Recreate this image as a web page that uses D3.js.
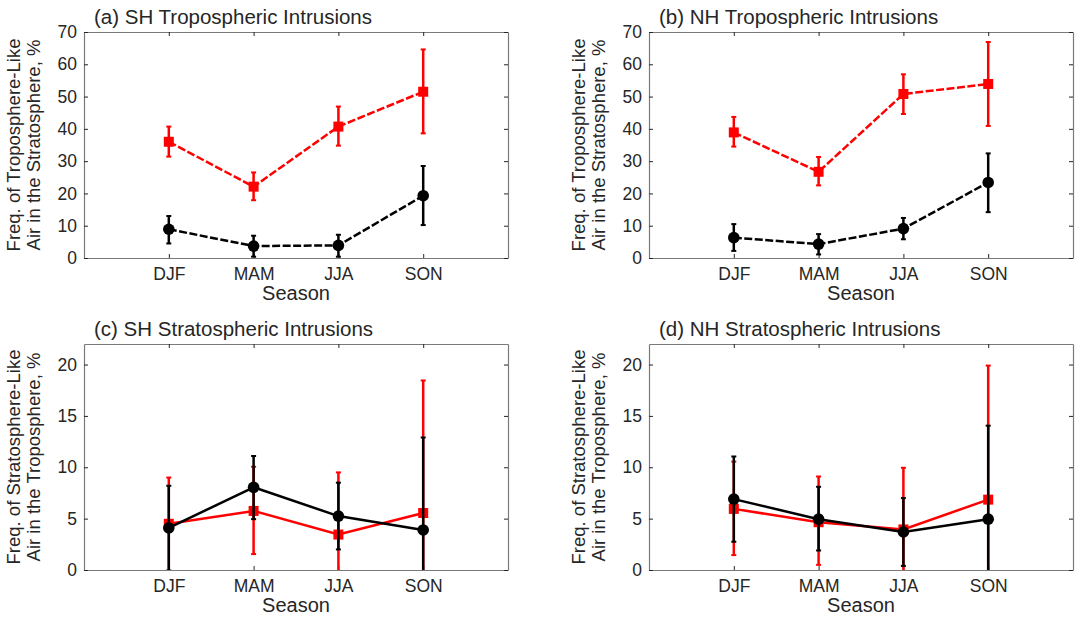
<!DOCTYPE html>
<html>
<head>
<meta charset="utf-8">
<script src="https://cdn.jsdelivr.net/npm/d3@7"></script>
<style>
  body { margin: 0; background: #fff; }
  text { font-family: "Liberation Sans", Arial, sans-serif; fill: #262626; }
</style>
</head>
<body>
<div id="chart"></div>
<script>
// seasons on the x axis
var seasons = ["DJF", "MAM", "JJA", "SON"];

// (a) SH tropospheric intrusions: value, lower, upper
var aRed = [36.0, 22.1, 40.7, 51.5];
var aRedLo = [31.4, 17.9, 34.8, 38.6];
var aRedHi = [40.7, 26.5, 46.9, 64.6];
var aBlack = [8.9, 3.7, 3.9, 19.3];
var aBlackLo = [4.5, 0.4, 0.4, 10.2];
var aBlackHi = [13.0, 6.9, 7.2, 28.5];

// (b) NH tropospheric intrusions
var bRed = [38.9, 26.7, 50.8, 53.9];
var bRedLo = [34.5, 22.5, 44.6, 40.9];
var bRedHi = [43.7, 31.3, 56.9, 66.9];
var bBlack = [6.3, 4.3, 9.1, 23.4];
var bBlackLo = [2.2, 1.1, 5.8, 14.2];
var bBlackHi = [10.5, 7.4, 12.4, 32.4];

// (c) SH stratospheric intrusions
var cRed = [4.5, 5.75, 3.45, 5.55];
var cRedLo = [-0.1, 1.55, -2.6, -7.3];
var cRedHi = [9.0, 10.05, 9.5, 18.45];
var cBlack = [4.1, 8.05, 5.25, 3.9];
var cBlackLo = [-0.05, 4.95, 2.0, -5.1];
var cBlackHi = [8.2, 11.1, 8.5, 12.9];

// (d) NH stratospheric intrusions
var dRed = [5.95, 4.65, 3.95, 6.85];
var dRedLo = [1.45, 0.5, -2.0, -6.2];
var dRedHi = [10.55, 9.1, 9.95, 19.9];
var dBlack = [6.9, 4.95, 3.7, 4.95];
var dBlackLo = [2.75, 1.9, 0.4, -4.1];
var dBlackHi = [11.05, 8.1, 7.0, 14.05];

var panels = [
  {title: "(a) SH Tropospheric Intrusions", x: 84, y: 32, ymax: 70, yticks: d3.range(0, 71, 10),
   ylab: ["Freq. of Troposphere-Like", "Air in the Stratosphere, %"], dash: "8,2.5",
   red: [aRed, aRedLo, aRedHi], black: [aBlack, aBlackLo, aBlackHi]},
  {title: "(b) NH Tropospheric Intrusions", x: 649, y: 32, ymax: 70, yticks: d3.range(0, 71, 10),
   ylab: ["Freq. of Troposphere-Like", "Air in the Stratosphere, %"], dash: "8,2.5",
   red: [bRed, bRedLo, bRedHi], black: [bBlack, bBlackLo, bBlackHi]},
  {title: "(c) SH Stratospheric Intrusions", x: 84, y: 344, ymax: 22, yticks: [0, 5, 10, 15, 20],
   ylab: ["Freq. of Stratosphere-Like", "Air in the Troposphere, %"], dash: null,
   red: [cRed, cRedLo, cRedHi], black: [cBlack, cBlackLo, cBlackHi]},
  {title: "(d) NH Stratospheric Intrusions", x: 649, y: 344, ymax: 22, yticks: [0, 5, 10, 15, 20],
   ylab: ["Freq. of Stratosphere-Like", "Air in the Troposphere, %"], dash: null,
   red: [dRed, dRedLo, dRedHi], black: [dBlack, dBlackLo, dBlackHi]}
];

var W = 424, H = 226;

var svg = d3.select("#chart").append("svg")
  .attr("width", 1076).attr("height", 617);

panels.forEach(function(p, pi) {
  var g = svg.append("g").attr("transform", "translate(" + p.x + "," + p.y + ")");
  var x = d3.scaleLinear().domain([0, 5]).range([0, W]);
  var y = d3.scaleLinear().domain([0, p.ymax]).range([H, 0]);
  var xi = function(i) { return x(i + 1); };

  var clipId = "clip" + pi;
  g.append("clipPath").attr("id", clipId).append("rect")
    .attr("x", 0).attr("y", 0).attr("width", W).attr("height", H);

  // axes with inward ticks on all four sides
  g.append("g").attr("transform", "translate(0," + H + ")")
    .call(d3.axisBottom(x).tickValues([1, 2, 3, 4]).tickFormat(function(d) { return seasons[d - 1]; })
      .tickSizeInner(-4).tickSizeOuter(0).tickPadding(10))
    .call(function(a) { a.selectAll("text").attr("font-size", 17.5); });
  g.append("g")
    .call(d3.axisTop(x).tickValues([1, 2, 3, 4]).tickFormat("").tickSizeInner(-4).tickSizeOuter(0));
  g.append("g")
    .call(d3.axisLeft(y).tickValues(p.yticks).tickSizeInner(-4).tickSizeOuter(0).tickPadding(7))
    .call(function(a) { a.selectAll("text").attr("font-size", 17.5); });
  g.append("g").attr("transform", "translate(" + W + ",0)")
    .call(d3.axisRight(y).tickValues(p.yticks).tickFormat("").tickSizeInner(-4).tickSizeOuter(0));
  g.selectAll(".domain").attr("stroke", "#7a7a7a").attr("stroke-width", 1.2);
  g.selectAll(".tick line").attr("stroke", "#262626");
  g.selectAll("text").attr("font-family", "Liberation Sans, Arial, sans-serif").attr("fill", "#262626");

  g.append("text").attr("x", 10).attr("y", -8).attr("font-size", 20.5).text(p.title);
  g.append("text").attr("x", W / 2).attr("y", H + 42).attr("text-anchor", "middle")
    .attr("font-size", 20).text("Season");
  p.ylab.forEach(function(t, li) {
    g.append("text")
      .attr("transform", "translate(" + (-64 + li * 20) + "," + (H / 2) + ") rotate(-90)")
      .attr("text-anchor", "middle").attr("font-size", 18.5).text(t);
  });

  var plot = g.append("g").attr("clip-path", "url(#" + clipId + ")");
  [[p.red, "#ff0000", "square"], [p.black, "#000000", "circle"]].forEach(function(s) {
    var vals = s[0][0], lo = s[0][1], hi = s[0][2], col = s[1];
    var line = d3.line().x(function(d, i) { return xi(i); }).y(function(d) { return y(d); });
    plot.append("path").datum(vals).attr("d", line)
      .attr("fill", "none").attr("stroke", col).attr("stroke-width", 2.5)
      .attr("stroke-dasharray", p.dash);
    vals.forEach(function(v, i) {
      plot.append("line").attr("x1", xi(i)).attr("x2", xi(i))
        .attr("y1", y(lo[i])).attr("y2", y(hi[i]))
        .attr("stroke", col).attr("stroke-width", 2.5);
      [lo[i], hi[i]].forEach(function(e) {
        plot.append("line").attr("x1", xi(i) - 2.5).attr("x2", xi(i) + 2.5)
          .attr("y1", y(e)).attr("y2", y(e)).attr("stroke", col).attr("stroke-width", 2);
      });
      if (s[2] === "square") {
        plot.append("rect").attr("x", xi(i) - 5).attr("y", y(v) - 5)
          .attr("width", 10).attr("height", 10).attr("fill", col);
      } else {
        plot.append("circle").attr("cx", xi(i)).attr("cy", y(v)).attr("r", 5.8).attr("fill", col);
      }
    });
  });
});
</script>
</body>
</html>
